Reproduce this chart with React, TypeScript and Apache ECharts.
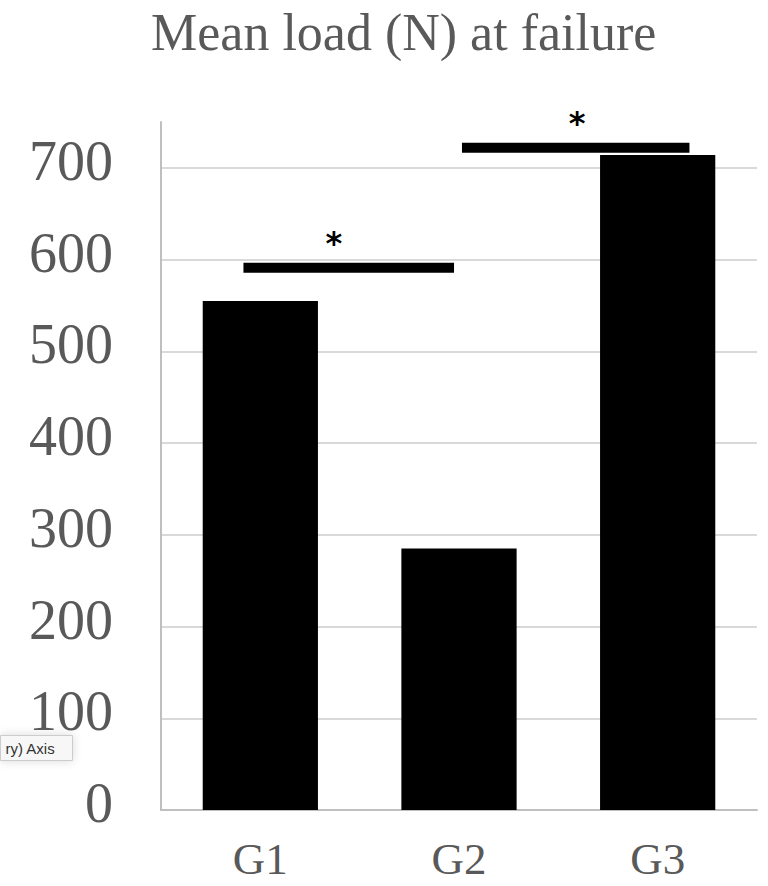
import React, { useEffect, useRef } from "react";
import * as echarts from "echarts";

const categories = ["G1", "G2", "G3"];
const meanLoad = [555, 285, 714];
const yTicks = [0, 100, 200, 300, 400, 500, 600, 700];
// significance brackets: fractional category positions and height (N)
const sigFrom = [-0.085, 1.015];
const sigTo = [0.975, 2.16];
const sigLevel = [591, 722];
const sigStarPos = [0.37, 1.595];
const sigMark = ["*", "*"];

const SERIF = "'Liberation Serif', 'Times New Roman', serif";
const GRAY = "#595959";

export default function App() {
  const ref = useRef<HTMLDivElement>(null);
  useEffect(() => {
    if (!ref.current) return;
    const chart = echarts.init(ref.current, null, { renderer: "svg" });
    const sigData = sigFrom.map((f, i) => [f, sigTo[i], sigLevel[i], sigStarPos[i], sigMark[i]]);
    chart.setOption({
      animation: false,
      backgroundColor: "#ffffff",
      title: {
        text: "Mean load (N) at failure",
        left: 146,
        top: 1,
        textStyle: { fontFamily: SERIF, fontSize: 52, fontWeight: "normal", color: GRAY },
      },
      grid: { left: 161, right: 11, top: 122, bottom: 76, containLabel: false },
      xAxis: {
        type: "category",
        data: categories,
        axisLine: { show: true, lineStyle: { color: "#bfbfbf", width: 2 } },
        axisTick: { show: false },
        axisLabel: { fontFamily: SERIF, fontSize: 45, color: GRAY, margin: 26 },
        splitLine: { show: false },
      },
      yAxis: {
        type: "value",
        min: 0,
        max: 750,
        interval: 100,
        axisLine: { show: true, lineStyle: { color: "#bfbfbf", width: 2 } },
        axisTick: { show: false },
        axisLabel: {
          fontFamily: SERIF,
          fontSize: 56,
          color: GRAY,
          margin: 48,
          verticalAlign: "bottom",
          lineHeight: 14,
          showMaxLabel: false,
          formatter: (v: number) => (yTicks.includes(v) ? String(v) : ""),
        },
        splitLine: { show: true, showMaxLine: false, lineStyle: { color: "#d9d9d9", width: 2 } },
      },
      series: [
        {
          type: "bar",
          data: meanLoad,
          barWidth: "58%",
          itemStyle: { color: "#000000" },
        },
        {
          type: "custom",
          clip: false,
          encode: { x: 0, y: 2 },
          data: sigData,
          renderItem: (params: any, api: any) => {
            const origin = api.coord([0, api.value(2)]);
            const band = api.size([1, 0])[0];
            const x0 = origin[0] + (api.value(0) as number) * band;
            const x1 = origin[0] + (api.value(1) as number) * band;
            const xs = origin[0] + (api.value(3) as number) * band;
            const y = origin[1];
            return {
              type: "group",
              children: [
                {
                  type: "rect",
                  shape: { x: x0, y: y - 5, width: x1 - x0, height: 10 },
                  style: { fill: "#000000" },
                },
                {
                  type: "text",
                  style: {
                    x: xs,
                    y: y - 25,
                    text: sigMark[params.dataIndex],
                    fill: "#000000",
                    font: "bold 32px 'DejaVu Sans', sans-serif",
                    align: "center",
                    verticalAlign: "middle",
                  },
                },
              ],
            };
          },
        },
      ],
      graphic: [
        {
          type: "group",
          left: 0,
          top: 735,
          children: [
            {
              type: "rect",
              shape: { x: 0, y: 0, width: 72, height: 25 },
              style: {
                fill: "#f7f7f7",
                stroke: "#cccccc",
                lineWidth: 1,
                shadowBlur: 10,
                shadowColor: "rgba(0,0,0,0.15)",
              },
            },
            {
              type: "text",
              style: {
                x: 5,
                y: 12.5,
                text: "ry) Axis",
                fill: "#333333",
                font: "15px 'Liberation Sans', sans-serif",
                verticalAlign: "middle",
              },
            },
          ],
        },
      ],
    });
    return () => chart.dispose();
  }, []);
  return <div ref={ref} style={{ width: 768, height: 886, position: "absolute", left: 0, top: 0 }} />;
}
